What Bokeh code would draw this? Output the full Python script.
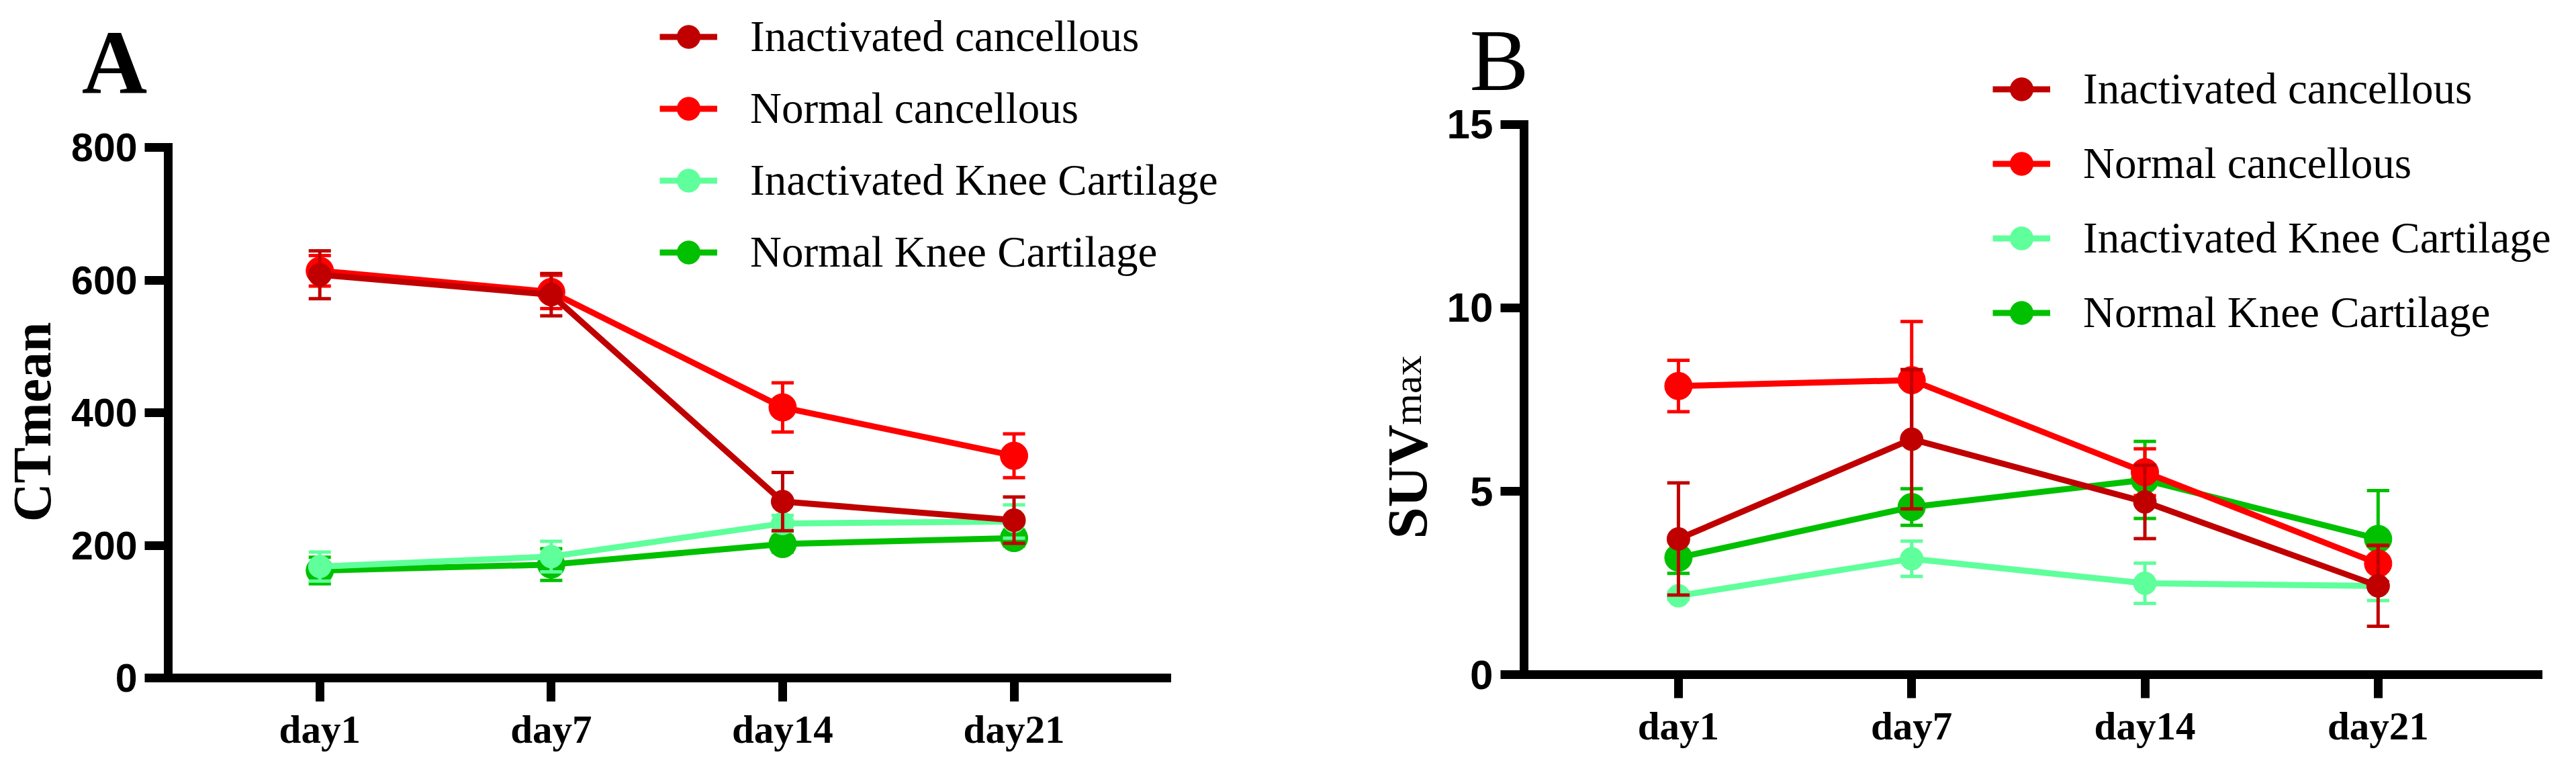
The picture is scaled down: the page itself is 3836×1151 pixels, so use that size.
import math
from bokeh.plotting import figure
from bokeh.models import Range1d, FixedTicker, Legend, LegendItem, Label
from bokeh.layouts import row
from bokeh.embed import file_html
from bokeh.resources import INLINE

# ---------------- data ----------------
days = ["day1", "day7", "day14", "day21"]
series = ["Inactivated cancellous", "Normal cancellous",
          "Inactivated Knee Cartilage", "Normal Knee Cartilage"]
colors = ["#C00000", "#FF0000", "#5FFF9B", "#00C000"]

# Panel A: CTmean (mean, SEM)
ct_inact_canc = [608, 578, 266, 238]
ct_inact_canc_err = [36, 32, 44, 35]
ct_norm_canc = [614, 582, 408, 335]
ct_norm_canc_err = [23, 25, 37, 33]
ct_inact_knee = [168, 183, 233, 236]
ct_inact_knee_err = [22, 23, 12, 25]
ct_norm_knee = [162, 171, 202, 211]
ct_norm_knee_err = [20, 24, 12, 12]

# Panel B: SUVmax (mean, SEM)
suv_inact_canc = [3.70, 6.42, 4.71, 2.42]
suv_inact_canc_err = [1.53, 1.90, 1.00, 1.10]
suv_norm_canc = [7.87, 8.03, 5.52, 3.03]
suv_norm_canc_err = [0.70, 1.60, 0.64, 0.50]
suv_inact_knee = [2.15, 3.16, 2.49, 2.42]
suv_inact_knee_err = [0.10, 0.48, 0.55, 0.40]
suv_norm_knee = [3.19, 4.57, 5.31, 3.70]
suv_norm_knee_err = [0.43, 0.50, 1.05, 1.32]

ct_ticks = [0, 200, 400, 600, 800]
suv_ticks = [0, 5, 10, 15]

SERIF = "Liberation Serif"
SANS = "Liberation Sans"
marker_sizes = [34, 41, 34, 41]


def make_panel(width, height, view_x, view_y, axis_x, axis_y, yticks,
               means, errs, cap_half, legend_loc, legend_spacing, tick_font):
    p = figure(width=width, height=height, output_backend="svg",
               toolbar_location=None,
               x_range=Range1d(*view_x), y_range=Range1d(*view_y),
               min_border_left=0, min_border_right=0,
               min_border_top=0, min_border_bottom=0)
    p.grid.visible = False
    p.outline_line_color = None
    p.background_fill_color = "white"
    p.border_fill_color = "white"

    for ax in (p.xaxis[0], p.yaxis[0]):
        ax.axis_line_width = 13
        ax.axis_line_color = "black"
        ax.axis_line_cap = "square"
        ax.major_tick_line_width = 13
        ax.major_tick_line_color = "black"
        ax.major_tick_out = 35
        ax.major_tick_in = 0
        ax.minor_tick_line_color = None
        ax.major_label_text_color = "black"
        ax.major_label_text_font_style = "bold"

    xa = p.xaxis[0]
    xa.ticker = FixedTicker(ticks=list(range(len(days))))
    xa.major_label_overrides = {i: d for i, d in enumerate(days)}
    xa.major_label_text_font = SERIF
    xa.major_label_text_font_size = "59px"
    xa.major_label_standoff = 8
    xa.fixed_location = axis_y[0]
    xa.bounds = axis_x

    ya = p.yaxis[0]
    ya.ticker = FixedTicker(ticks=yticks)
    ya.major_label_text_font = SANS
    ya.major_label_text_font_size = tick_font
    ya.major_label_standoff = 11
    ya.fixed_location = axis_x[0]
    ya.bounds = axis_y

    xs = list(range(len(days)))
    line_r = {}
    dot_r = {}
    # later series drawn first so that earlier series end up on top
    for k in reversed(range(len(series))):
        m = means[k]
        e = errs[k]
        c = colors[k]
        lo = [a - b for a, b in zip(m, e)]
        hi = [a + b for a, b in zip(m, e)]
        p.segment(x0=xs, y0=lo, x1=xs, y1=hi, line_color=c, line_width=5)
        p.segment(x0=[x - cap_half for x in xs], y0=hi,
                  x1=[x + cap_half for x in xs], y1=hi,
                  line_color=c, line_width=5)
        p.segment(x0=[x - cap_half for x in xs], y0=lo,
                  x1=[x + cap_half for x in xs], y1=lo,
                  line_color=c, line_width=5)
        line_r[k] = p.line(xs, m, line_color=c, line_width=9)
        dot_r[k] = p.scatter(xs, m, size=marker_sizes[k], marker="circle",
                             fill_color=c, line_color=c)

    items = [LegendItem(label=series[k], renderers=[line_r[k], dot_r[k]])
             for k in range(len(series))]
    leg = Legend(items=items, location=legend_loc,
                 glyph_width=86, glyph_height=95, label_standoff=49,
                 spacing=legend_spacing, padding=0, margin=0,
                 border_line_color=None, background_fill_alpha=0,
                 label_text_font=SERIF, label_text_font_size="65px",
                 label_text_color="black")
    p.add_layout(leg)
    return p


# ---------- Panel A ----------
pA = make_panel(1892, 1135, (-1.3805, 4.1099), (-127.59, 1021.77),
                (-0.655, 3.66), (0, 800), ct_ticks,
                [ct_inact_canc, ct_norm_canc, ct_inact_knee, ct_norm_knee],
                [ct_inact_canc_err, ct_norm_canc_err, ct_inact_knee_err, ct_norm_knee_err],
                0.048, (982, 712), 12, "59px")
pA.add_layout(Label(x=-1.029, y=928, text="A", text_font=SERIF,
                    text_font_size="135px", text_font_style="bold",
                    text_align="left", text_baseline="alphabetic",
                    text_color="black"))
pA.add_layout(Label(x=-1.2416, y=386, text="CTmean", angle=math.pi / 2,
                    text_font=SERIF, text_font_size="80px",
                    text_font_style="bold", text_align="center",
                    text_baseline="alphabetic", text_color="black"))

# ---------- Panel B ----------
pB = make_panel(1920, 1135, (-1.7475, 3.7808), (-2.399, 18.388),
                (-0.662, 3.685), (0, 15), suv_ticks,
                [suv_inact_canc, suv_norm_canc, suv_inact_knee, suv_norm_knee],
                [suv_inact_canc_err, suv_norm_canc_err, suv_inact_knee_err, suv_norm_knee_err],
                0.048, (1075, 622), 16, "62px")
pB.add_layout(Label(x=-0.895, y=16.76, text="B", text_font=SERIF,
                    text_font_size="132px", text_align="left",
                    text_baseline="alphabetic", text_color="black"))
pB.add_layout(Label(x=-1.162, y=3.70, text="SUV", angle=math.pi / 2,
                    text_font=SERIF, text_font_size="85px",
                    text_font_style="bold", text_align="left",
                    text_baseline="alphabetic", text_color="black"))
pB.add_layout(Label(x=-1.162, y=6.81, text="max", angle=math.pi / 2,
                    text_font=SERIF, text_font_size="60px",
                    text_align="left", text_baseline="alphabetic",
                    text_color="black"))

layout = row(pA, pB)
open("out.html", "w").write(file_html(layout, INLINE))
